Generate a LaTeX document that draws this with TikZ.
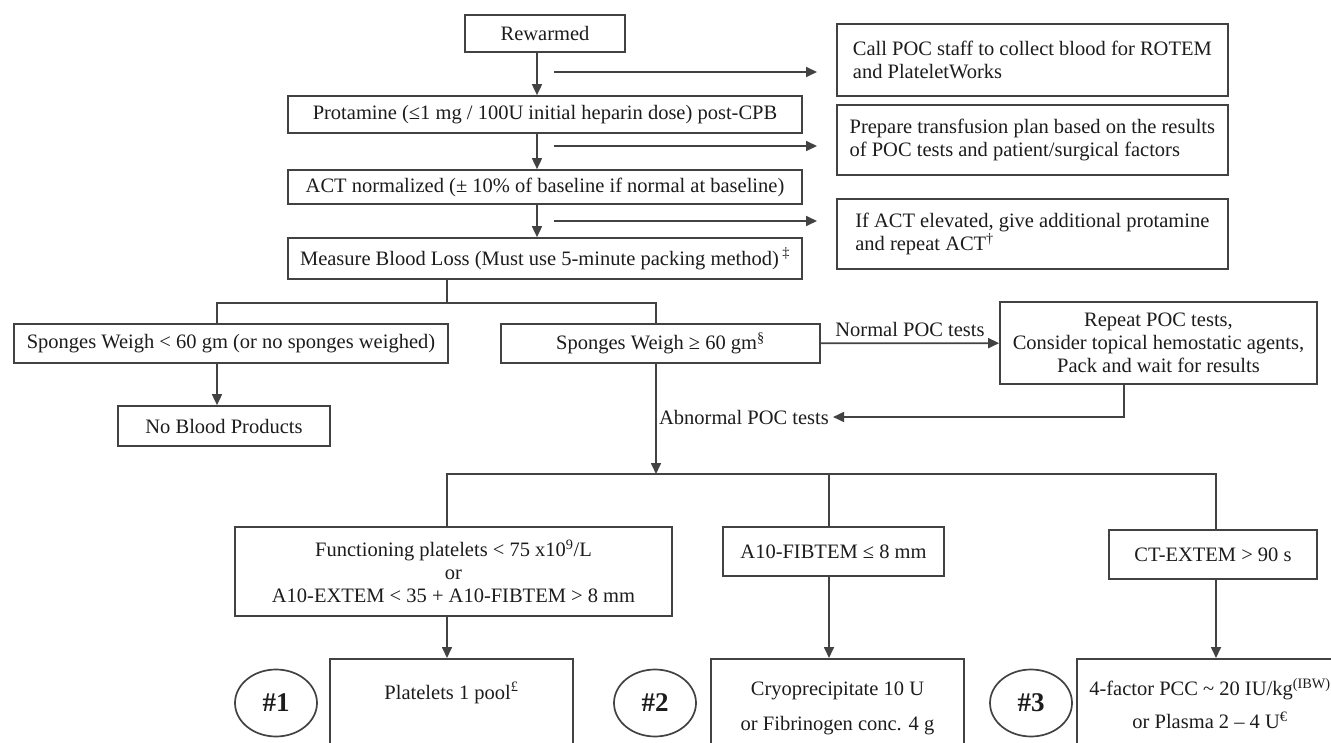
\documentclass[tikz,border=0pt]{standalone}
\usepackage{fontspec}
\setmainfont{Liberation Serif}
\usetikzlibrary{arrows.meta, positioning, shapes.geometric}
\definecolor{linegray}{RGB}{66,66,66}
\definecolor{inkgray}{RGB}{28,28,28}

\begin{document}
\begin{tikzpicture}[x=1pt, y=-1pt, line width=1.7pt, color=linegray, text=inkgray,
    font=\fontsize{20.5}{23}\selectfont,
    box/.style={draw, rectangle, inner sep=0pt, align=center},
    note/.style={draw, rectangle, anchor=west, minimum width=391pt, minimum height=70pt,
        inner xsep=11pt, align=left},
    dose/.style={draw, rectangle, anchor=north, minimum height=110pt},
    num/.style={draw, ellipse, minimum width=82pt, minimum height=67pt, inner sep=0pt,
        font=\bfseries\fontsize{27}{30}\selectfont},
    arr/.style={-{Triangle[length=11pt, width=10pt]}}]
    \useasboundingbox (0,0) rectangle (1331,743);
    \clip (0,0) rectangle (1331,743);

    % main column
    \node[box, minimum width=160pt, minimum height=37pt] (rew) at (545,33.5) {Rewarmed};
    \node[box, minimum width=514pt, minimum height=37pt] (prot) at (545,114.5)
        {Protamine (≤1 mg / 100U initial heparin dose) post-CPB};
    \node[box, minimum width=514pt, minimum height=34pt] (act) at (545,187)
        {ACT normalized (± 10\% of baseline if normal at baseline)};
    \node[box, minimum width=514pt, minimum height=41pt] (meas) at (545,258.5)
        {Measure Blood Loss (Must use 5-minute packing method)\,\textsuperscript{‡}};

    % side notes
    \node[note, minimum height=72pt] (call) at (836,60)
        {Call POC staff to collect blood for ROTEM\\ and PlateletWorks};
    \node[note] (prep) at (836,140)
        {Prepare transfusion plan based on the results\\ of POC tests and patient/surgical factors};
    \node[note] (ifact) at (836,234)
        {If ACT elevated, give additional protamine\\ and repeat ACT\textsuperscript{†}};

    % sponge weight
    \node[box, minimum width=434pt, minimum height=39pt] (spl) at (231,343.5)
        {Sponges Weigh < 60 gm (or no sponges weighed)};
    \node[box, minimum width=319pt, minimum height=39pt] (spg) at (660.5,343.5)
        {Sponges Weigh ≥ 60 gm\textsuperscript{§}};
    \node[box, minimum width=212pt, minimum height=40pt] (nobp) at (224,426) {No Blood Products};
    \node[box, minimum width=317pt, minimum height=82pt] (rep) at (1158.5,343)
        {Repeat POC tests,\\ Consider topical hemostatic agents,\\ Pack and wait for results};
    \node (abn) at (744,417) {Abnormal POC tests};

    % ROTEM results
    \node[box, minimum width=437pt, minimum height=89pt] (func) at (453.5,571.5)
        {Functioning platelets < 75 x10\textsuperscript{9}/L\\ or\\ A10-EXTEM < 35 + A10-FIBTEM > 8 mm};
    \node[box, minimum width=221pt, minimum height=49pt] (fib) at (833.5,551.5) {A10-FIBTEM ≤ 8 mm};
    \node[box, minimum width=208pt, minimum height=49pt] (ctx) at (1213,554.5) {CT-EXTEM > 90 s};

    % products
    \node[dose, minimum width=243pt,
        label={[anchor=north, yshift=-20pt]north:Platelets 1 pool\textsuperscript{£}}] (plt) at (451.5,658) {};
    \node[dose, minimum width=253pt,
        label={[anchor=north, yshift=-20pt, align=center, font=\fontsize{20.5}{35}\selectfont]north:Cryoprecipitate 10 U\\ or Fibrinogen conc. 4 g}] (cryo) at (837.5,658) {};
    \node[dose, minimum width=266pt,
        label={[anchor=north, yshift=-16pt, align=center, font=\fontsize{20.5}{33}\selectfont]north:4-factor PCC \textasciitilde{} 20 IU/kg\textsuperscript{(IBW)}\\ or Plasma 2 -- 4 U\textsuperscript{€}}] (pcc) at (1210,658) {};
    \node[num] (n1) at (276,703) {\#1};
    \node[num] (n2) at (655,703) {\#2};
    \node[num] (n3) at (1031,703) {\#3};

    % connectors
    \coordinate (stem) at (537,0);
    \coordinate (c1) at (554,72);
    \coordinate (c2) at (554,146);
    \coordinate (c3) at (554,221);
    \coordinate (split) at (447,303);
    \coordinate (ls) at (217,0);
    \coordinate (rs) at (656,0);
    \coordinate (rb) at (1124,0);
    \coordinate (split2) at (656,474);
    \coordinate (bl) at (447,0);
    \coordinate (bm) at (829,0);
    \coordinate (br) at (1216,0);

    \draw[arr] (rew.south -| stem) -- (prot.north -| stem);
    \draw[arr] (prot.south -| stem) -- (act.north -| stem);
    \draw[arr] (act.south -| stem) -- (meas.north -| stem);
    \draw[arr, shorten >=19pt] (c1) -- (c1 -| call.west);
    \draw[arr, shorten >=19pt] (c2) -- (c2 -| prep.west);
    \draw[arr, shorten >=19pt] (c3) -- (c3 -| ifact.west);

    \draw (meas.south -| split) -- (split);
    \draw (spl.north -| ls) |- (split) -| (spg.north -| rs);
    \draw[arr] (spl.south -| ls) -- (nobp.north -| ls);
    \draw[arr] (spg) -- node[above=2pt] {Normal POC tests} (rep);
    \draw[arr] (rep.south -| rb) |- (abn.east);

    \draw[arr] (spg.south -| rs) -- (split2);
    \draw (func.north -| bl) |- (split2) -| (ctx.north -| br);
    \draw (fib.north -| bm) -- (bm |- split2);
    \draw[arr] (func.south -| bl) -- (plt.north -| bl);
    \draw[arr] (fib.south -| bm) -- (cryo.north -| bm);
    \draw[arr] (ctx.south -| br) -- (pcc.north -| br);
\end{tikzpicture}
\end{document}
